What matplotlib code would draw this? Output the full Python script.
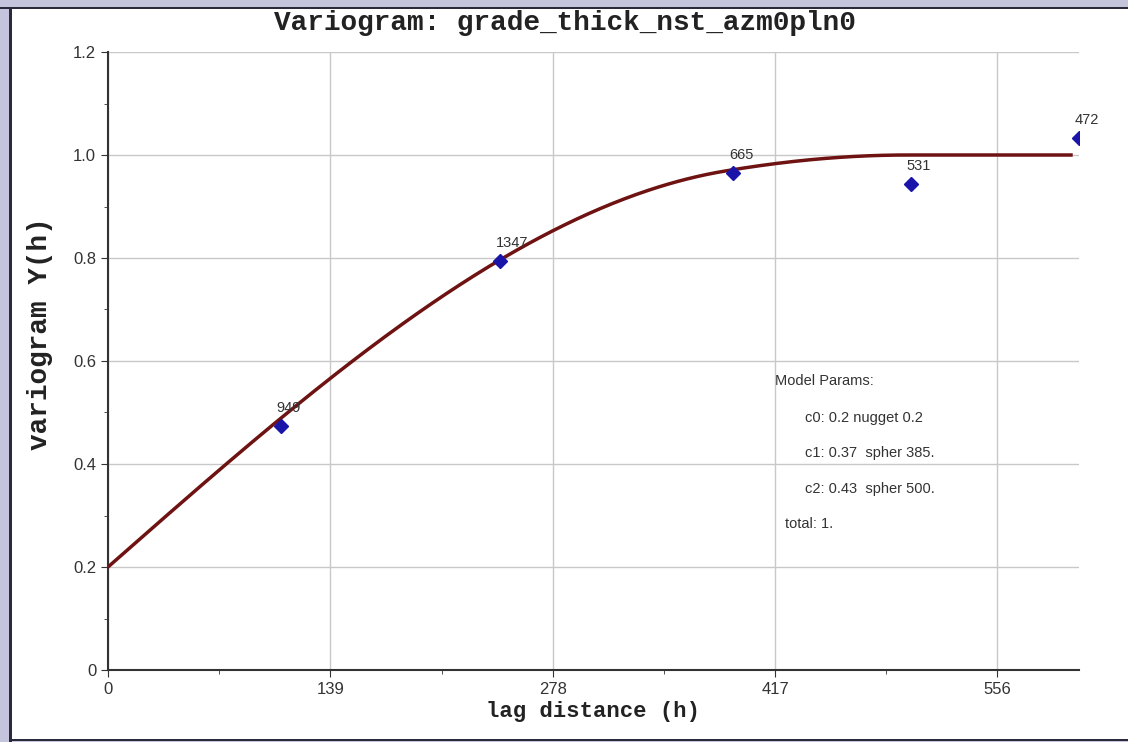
import numpy as np
import matplotlib
matplotlib.use("Agg")
import matplotlib.pyplot as plt
from matplotlib.patches import Rectangle
from matplotlib.ticker import MultipleLocator

# experimental variogram points: lag, gamma, number of pairs
lags = [108, 245, 391, 502, 607]
gammas = [0.474, 0.794, 0.965, 0.944, 1.033]
pairs = [949, 1347, 665, 531, 472]

# nested model: nugget + two spherical structures
nugget = 0.2
sills = [0.37, 0.43]
ranges = [385.0, 500.0]

x_max = 607
x_ticks = [0, 139, 278, 417, 556]
y_ticks = [0, 0.2, 0.4, 0.6, 0.8, 1.0, 1.2]
y_ticklabels = ["0", "0.2", "0.4", "0.6", "0.8", "1.0", "1.2"]

mono = "Liberation Mono"
sans = "Liberation Sans"


def spherical(h, a):
    r = np.minimum(h / a, 1.0)
    return 1.5 * r - 0.5 * r ** 3


h = np.linspace(0, 602, 400)
model = nugget + sum(c * spherical(h, a) for c, a in zip(sills, ranges))

fig = plt.figure(figsize=(11.28, 7.42), dpi=100)
fig.patch.set_facecolor("white")

# window frame
W, H = 1128.0, 742.0
frame_col = "#c4c4dc"
edge_col = "#2a2a3a"
fig.patches.extend([
    Rectangle((0, 1 - 7 / H), 1, 7 / H, transform=fig.transFigure,
              facecolor=frame_col, edgecolor="none", zorder=-5),
    Rectangle((0, 1 - 9 / H), 1, 2 / H, transform=fig.transFigure,
              facecolor=edge_col, edgecolor="none", zorder=-4),
    Rectangle((0, 0), 10 / W, 1, transform=fig.transFigure,
              facecolor=frame_col, edgecolor="none", zorder=-5),
    Rectangle((9 / W, 0), 3 / W, 1 - 7 / H, transform=fig.transFigure,
              facecolor=edge_col, edgecolor="none", zorder=-4),
    Rectangle((0, 0), 1, 2 / H, transform=fig.transFigure,
              facecolor=frame_col, edgecolor="none", zorder=-5),
    Rectangle((9 / W, 1 / H), 1, 2 / H, transform=fig.transFigure,
              facecolor=edge_col, edgecolor="none", zorder=-4),
])

ax = fig.add_axes([108 / W, 72 / H, 971 / W, 618 / H])
ax.set_xlim(0, x_max)
ax.set_ylim(0, 1.2)

for s in ["top", "right"]:
    ax.spines[s].set_visible(False)
for s in ["left", "bottom"]:
    ax.spines[s].set_color("#333333")
    ax.spines[s].set_linewidth(1.5)

ax.set_xticks(x_ticks)
ax.set_yticks(y_ticks)
ax.set_yticklabels(y_ticklabels)
ax.xaxis.set_minor_locator(MultipleLocator(69.5))
ax.yaxis.set_minor_locator(MultipleLocator(0.1))
ax.tick_params(which="both", direction="out", color="#333333")
ax.tick_params(which="major", length=5, labelsize=12, labelcolor="#333333")
ax.tick_params(which="minor", length=3)
for lbl in ax.get_xticklabels() + ax.get_yticklabels():
    lbl.set_fontfamily(sans)

ax.grid(True, which="major", color="#c8c8c8", linewidth=1)
ax.set_axisbelow(True)

ax.plot(h, model, color="#6e1212", linewidth=2.5, zorder=3)
ax.plot(lags, gammas, linestyle="none", marker="D", markersize=7,
        color="#1a14a8", zorder=4)

for x, y, n in zip(lags, gammas, pairs):
    ax.annotate(str(n), (x, y), xytext=(-3, 10), textcoords="offset points",
                fontsize=10.5, fontfamily=sans, color="#333333",
                annotation_clip=False, zorder=5)

params = [
    (0.687, 0.461, "Model Params:"),
    (0.718, 0.401, "c0: 0.2 nugget 0.2"),
    (0.718, 0.345, "c1: 0.37  spher 385."),
    (0.718, 0.286, "c2: 0.43  spher 500."),
    (0.697, 0.230, "total: 1."),
]
for px, py, txt in params:
    ax.text(px, py, txt, transform=ax.transAxes,
            fontsize=10.5, fontfamily=sans, color="#333333")

fig.text(0.501, 1 - 30 / H, "Variogram: grade_thick_nst_azm0pln0",
         ha="center", va="baseline", fontsize=20, fontfamily=mono,
         fontweight="bold", color="#222222")
ax.set_xlabel("lag distance (h)", fontsize=16, fontfamily=mono,
              fontweight="bold", color="#222222", labelpad=3)
fig.text(40 / W, 1 - 334 / H, "variogram Y(h)", rotation=90,
         ha="center", va="center", fontsize=20, fontfamily=mono,
         fontweight="bold", color="#222222")

fig.savefig("out.png", dpi=100)
